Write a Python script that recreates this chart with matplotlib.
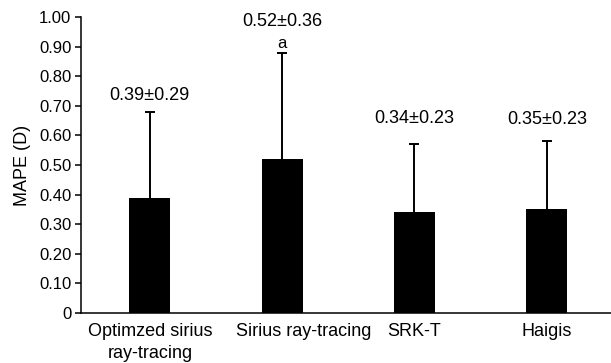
import matplotlib
matplotlib.use("Agg")
import matplotlib.pyplot as plt
import matplotlib.transforms as mtransforms
import numpy as np

plt.rcParams['font.family'] = ['Liberation Sans', 'DejaVu Sans']

categories = ["Optimzed sirius\nray-tracing", "Sirius ray-tracing", "SRK-T", "Haigis"]
means = [0.39, 0.52, 0.34, 0.35]
sds = [0.29, 0.36, 0.23, 0.23]
labels = ["0.39±0.29", "0.52±0.36", "0.34±0.23", "0.35±0.23"]
sig_marks = ["", "a", "", ""]
yticks = [0.0, 0.1, 0.2, 0.3, 0.4, 0.5, 0.6, 0.7, 0.8, 0.9, 1.0]
yticklabels = ["0", "0.10", "0.20", "0.30", "0.40", "0.50", "0.60", "0.70", "0.80", "0.90", "1.00"]

# layout: label vertical positions (axes data units)
label_y = [0.736, 0.986, 0.658, 0.655]
mark_y = [None, 0.912, None, None]

fig = plt.figure(figsize=(6.11, 3.63), dpi=100)
ax = fig.add_axes([81/611, 50/363, 1 - 81/611, 296/363])

x = np.arange(len(categories))
ax.bar(x, means, width=0.31, color='black', zorder=2)
eb = ax.errorbar(x, means, yerr=[np.zeros(len(sds)), sds], fmt='none', ecolor='black',
                 elinewidth=1.4, capsize=3.5, capthick=1.4, zorder=1)
# hide the lower caps (only upward error bars in the reference)
eb[1][0].set_visible(False)

for xi, lab, ly in zip(x, labels, label_y):
    ax.text(xi, ly, lab, ha='center', va='center', fontsize=13)
for xi, m, my in zip(x, sig_marks, mark_y):
    if m:
        ax.text(xi, my, m, ha='center', va='center', fontsize=12)

ax.set_xlim(-0.52, 3.485)
ax.set_ylim(0, 1.0)
ax.set_yticks(yticks)
ax.set_yticklabels(yticklabels, fontsize=12)
ax.set_xticks(x)
ax.set_xticklabels(categories, fontsize=13, linespacing=1.4)
ax.tick_params(axis='x', length=0, pad=7)
ax.tick_params(axis='y', direction='out', length=4, width=1.1, pad=3)
for s in ['top', 'right']:
    ax.spines[s].set_visible(False)
for s in ['left', 'bottom']:
    ax.spines[s].set_linewidth(1.1)

# shift second category label to the right as in the reference
lbl = ax.get_xticklabels()[1]
lbl.set_transform(lbl.get_transform() + mtransforms.ScaledTranslation(22/100, 0, fig.dpi_scale_trans))

ax.set_ylabel("MAPE (D)", fontsize=13, labelpad=6)

fig.savefig("out.png", dpi=100)
